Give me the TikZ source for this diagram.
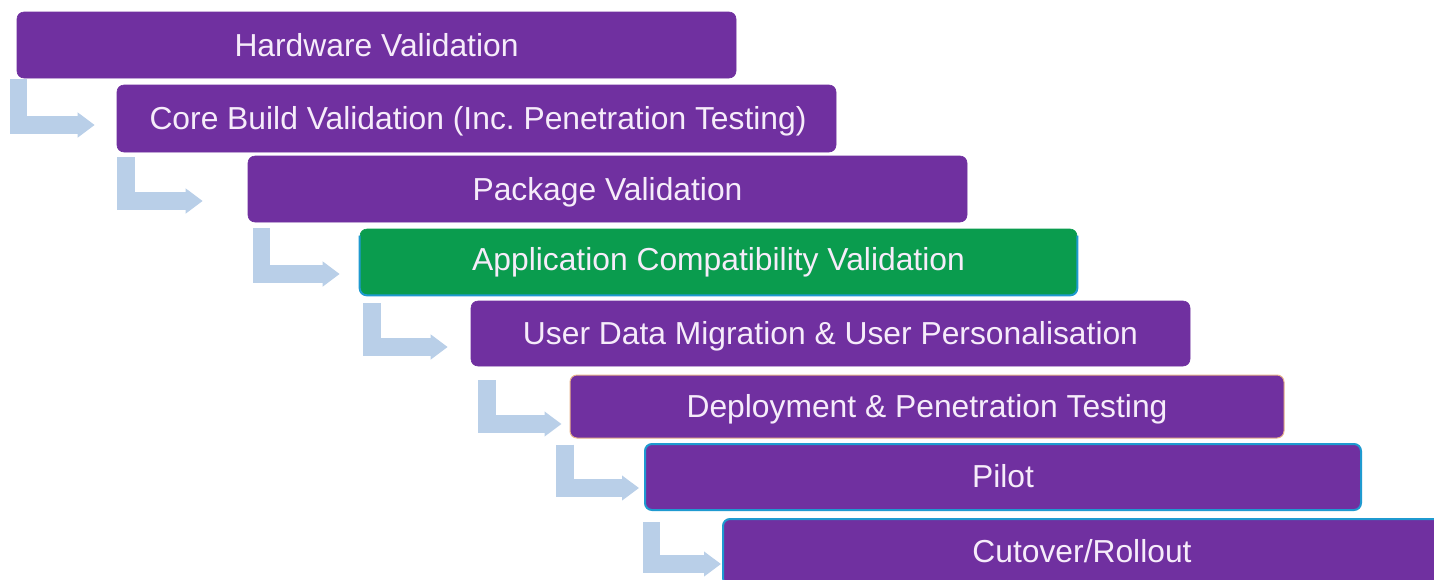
\documentclass[tikz,border=0pt]{standalone}
\usepackage{fontspec}
\setmainfont{Liberation Sans}
\usetikzlibrary{arrows.meta}
\definecolor{boxpurple}{HTML}{7030A0}
\definecolor{boxgreen}{HTML}{0A9C4E}
\definecolor{edgeblue}{HTML}{1F9AD0}
\definecolor{edgeorange}{HTML}{E8B48A}
\definecolor{arrowblue}{HTML}{B9CFE8}
\definecolor{textpale}{HTML}{F6ECFA}
\tikzset{
  stagebox/.style={rectangle,rounded corners=7pt,fill=boxpurple,draw=boxpurple,line width=0.6pt,
    minimum height=66pt,text=textpale,inner sep=0pt,
    text height=22pt,text depth=0pt,font=\fontsize{31.8pt}{36pt}\selectfont\frenchspacing},
  bentarrow/.style={draw=arrowblue,line width=17.5pt,
    -{Triangle[length=17pt,width=24pt,fill=arrowblue]}},
  blueedge/.style={draw=edgeblue,line width=2pt},
}
\begin{document}
\begin{tikzpicture}[x=1pt,y=-1pt]
\useasboundingbox (0,0) rectangle (1434,579);
\fill[white] (0,0) rectangle (1434,579);
\begin{scope}
\clip (0,0) rectangle (1434,579);
\node[stagebox,minimum width=719pt] (a) at (376.5,45) {Hardware Validation};
\node[stagebox,minimum width=719pt,minimum height=67pt] (b) at (476.5,118.5) {\hspace*{3pt}Core Build Validation (Inc. Penetration Testing)};
\node[stagebox,minimum width=719pt] (c) at (607.5,189) {Package Validation};
\node[stagebox,minimum width=717pt,fill=boxgreen,draw=boxgreen,text depth=6pt] (d) at (718.5,262) {Application Compatibility Validation};
\draw[blueedge,rounded corners=7pt] ([yshift=-7pt]d.north west) -- (d.south west) -- (d.south east) -- ([yshift=-7pt]d.north east);
\node[stagebox,minimum width=719pt,minimum height=65pt] (e) at (830.5,333.5) {User Data Migration \& User Personalisation};
\node[stagebox,minimum width=714pt,minimum height=63pt,draw=edgeorange,line width=1pt] (f) at (927,406.5) {Deployment \& Penetration Testing};
\node[stagebox,minimum width=716pt,blueedge,text depth=2pt] (g) at (1003,477) {Pilot};
\node[stagebox,minimum width=718pt,blueedge,text depth=2pt] (h) at (1082,552) {Cutover/Rollout};
\end{scope}
\draw[bentarrow] ([xshift=2pt,yshift=-1pt]a.south west) |- ([xshift=-22pt,yshift=-6.5pt]b.west);
\draw[bentarrow] ([xshift=9.5pt,yshift=-5pt]b.south west) |- ([xshift=-45pt,yshift=-12pt]c.west);
\draw[bentarrow] ([xshift=14pt,yshift=-6pt]c.south west) |- ([xshift=-20pt,yshift=-12pt]d.west);
\draw[bentarrow] ([xshift=12.5pt,yshift=-8pt]d.south west) |- ([xshift=-23pt,yshift=-13.5pt]e.west);
\draw[bentarrow] ([xshift=16.5pt,yshift=-14pt]e.south west) |- ([xshift=-8pt,yshift=-17.5pt]f.west);
\draw[bentarrow] ([xshift=-4.5pt,yshift=-6pt]f.south west) |- ([xshift=-5pt,yshift=-11pt]g.west);
\draw[bentarrow] ([xshift=7.5pt,yshift=-11pt]g.south west) |- ([xshift=-1pt,yshift=-12pt]h.west);
\end{tikzpicture}
\end{document}
